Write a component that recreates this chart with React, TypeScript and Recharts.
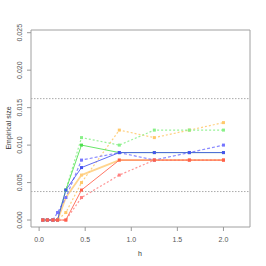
import { LineChart, Line, XAxis, YAxis, ReferenceLine, ReferenceArea } from "recharts";

const hValues = [0.04, 0.09, 0.15, 0.2, 0.29, 0.46, 0.87, 1.25, 1.63, 2.0];

const greenSolid = [0, 0, 0, 0, 0.004, 0.01, 0.009, 0.009, 0.009, 0.009];
const greenDotted = [0, 0, 0, 0, 0.004, 0.011, 0.01, 0.012, 0.012, 0.012];
const blueSolid = [0, 0, 0, 0, 0.004, 0.007, 0.009, 0.009, 0.009, 0.009];
const blueDashed = [0, 0, 0, 0.001, 0.003, 0.008, 0.009, 0.008, 0.009, 0.01];
const orangeSolid = [0, 0, 0, 0, 0.003, 0.006, 0.008, 0.008, 0.008, 0.008];
const orangeDotted = [0, 0, 0, 0, 0.001, 0.005, 0.012, 0.011, 0.012, 0.013];
const redSolid = [0, 0, 0, 0, 0, 0.004, 0.008, 0.008, 0.008, 0.008];
const redDotted = [0, 0, 0, 0, 0, 0.003, 0.006, 0.008, 0.008, 0.008];

const xTicks = [0, 0.5, 1, 1.5, 2];
const yTicks = [0, 0.005, 0.01, 0.015, 0.02, 0.025];
const bounds = [0.0162, 0.0038];

const X_DOMAIN: [number, number] = [-0.088, 2.288];
const Y_DOMAIN: [number, number] = [-0.00093, 0.02536];

const data = hValues.map((h, i) => ({
  h,
  greenSolid: greenSolid[i],
  greenDotted: greenDotted[i],
  blueSolid: blueSolid[i],
  blueDashed: blueDashed[i],
  orangeSolid: orangeSolid[i],
  orangeDotted: orangeDotted[i],
  redSolid: redSolid[i],
  redDotted: redDotted[i],
}));

const series = [
  { key: "orangeDotted", color: "#ffc86a", dash: "2 2", width: 1.2 },
  { key: "greenDotted", color: "#88f088", dash: "2 2", width: 1.2 },
  { key: "greenSolid", color: "#4ee04e", dash: undefined, width: 1 },
  { key: "orangeSolid", color: "#ffcc7a", dash: undefined, width: 1.8 },
  { key: "blueDashed", color: "#7474ff", dash: "3 2", width: 1.2 },
  { key: "blueSolid", color: "#4652f0", dash: undefined, width: 1 },
  { key: "redDotted", color: "#ff8080", dash: "2 2", width: 1.2 },
  { key: "redSolid", color: "#ff5f4a", dash: undefined, width: 1 },
];

const font = "'Liberation Sans', Arial, sans-serif";

function SquareDot(props: any) {
  const { cx, cy, stroke } = props;
  if (cx == null || cy == null) return null;
  return <rect x={cx - 1.5} y={cy - 1.5} width={3} height={3} fill={stroke} />;
}

function XTick(props: any) {
  const { x, y, payload } = props;
  return (
    <text x={x} y={y + 9} textAnchor="middle" fontSize={7} fontFamily={font} fill="#555">
      {payload.value.toFixed(1)}
    </text>
  );
}

function YTick(props: any) {
  const { y, payload } = props;
  return (
    <text
      x={20}
      y={y}
      transform={`rotate(-90, 20, ${y})`}
      textAnchor="middle"
      dominantBaseline="central"
      fontSize={7}
      fontFamily={font}
      fill="#555"
    >
      {payload.value.toFixed(3)}
    </text>
  );
}

export default function App() {
  return (
    <div style={{ position: "relative", width: 266, height: 266, background: "#fff" }}>
      <style>{`body{margin:0}`}</style>
      <LineChart width={266} height={266} data={data} margin={{ top: 30, right: 16, left: 0, bottom: 0 }}>
        <XAxis
          type="number"
          dataKey="h"
          domain={X_DOMAIN}
          allowDataOverflow
          ticks={xTicks}
          tick={<XTick />}
          tickSize={4}
          tickLine={{ stroke: "#999" }}
          axisLine={false}
          height={39}
        />
        <YAxis
          type="number"
          domain={Y_DOMAIN}
          allowDataOverflow
          ticks={yTicks}
          tick={<YTick />}
          tickSize={4}
          tickLine={{ stroke: "#999" }}
          axisLine={false}
          width={31}
        />
        <ReferenceArea
          x1={X_DOMAIN[0]}
          x2={X_DOMAIN[1]}
          y1={Y_DOMAIN[0]}
          y2={Y_DOMAIN[1]}
          fill="none"
          fillOpacity={0}
          stroke="#a0a0a0"
          strokeWidth={1}
        />
        {bounds.map((b) => (
          <ReferenceLine key={b} y={b} stroke="#aaa" strokeDasharray="1.5 1.5" />
        ))}
        {series.map((s) => (
          <Line
            key={s.key}
            dataKey={s.key}
            stroke={s.color}
            strokeWidth={s.width}
            strokeDasharray={s.dash}
            strokeOpacity={0.85}
            dot={<SquareDot />}
            activeDot={false}
            isAnimationActive={false}
          />
        ))}
      </LineChart>
      <div
        style={{
          position: "absolute",
          left: 8,
          top: 128,
          transform: "translate(-50%, -50%) rotate(-90deg)",
          fontSize: 7,
          fontFamily: font,
          color: "#333",
          whiteSpace: "nowrap",
        }}
      >
        Empirical size
      </div>
      <div
        style={{
          position: "absolute",
          left: 140,
          top: 253,
          transform: "translate(-50%, -50%)",
          fontSize: 7,
          fontFamily: font,
          color: "#333",
        }}
      >
        h
      </div>
    </div>
  );
}
